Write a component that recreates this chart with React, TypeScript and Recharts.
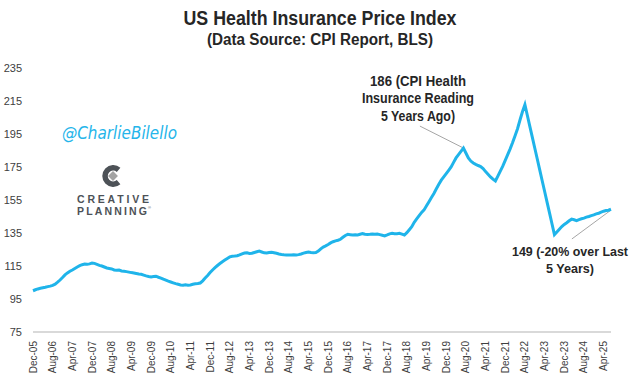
import { LineChart, Line, XAxis, YAxis, ReferenceLine } from "recharts";

// US Health Insurance CPI, monthly, Dec-05 .. Jul-25
const dec2005 = [100.0];
const y2006 = [100.6, 101.1, 101.5, 101.8, 102.1, 102.5, 102.8, 103.3, 104.0, 105.2, 106.5, 108.0];
const y2007 = [109.6, 110.8, 111.8, 112.6, 113.5, 114.4, 115.2, 115.8, 116.2, 116.0, 116.3, 116.8];
const y2008 = [116.6, 116.0, 115.4, 115.0, 114.4, 113.8, 113.5, 113.2, 112.6, 112.4, 112.5, 112.0];
const y2009 = [111.8, 111.6, 111.3, 111.0, 110.8, 110.5, 110.2, 110.0, 109.5, 109.0, 108.6, 108.3];
const y2010 = [108.6, 108.8, 108.2, 107.7, 107.0, 106.4, 105.8, 105.3, 104.8, 104.3, 103.9, 103.5];
const y2011 = [103.3, 103.6, 103.4, 103.5, 103.9, 104.2, 104.4, 104.7, 106.0, 107.7, 109.3, 111.0];
const y2012 = [112.6, 114.0, 115.3, 116.5, 117.6, 118.6, 119.6, 120.5, 120.9, 121.0, 121.2, 121.7];
const y2013 = [122.4, 122.9, 123.0, 122.6, 122.7, 123.2, 123.6, 124.0, 123.5, 123.0, 122.9, 123.2];
const y2014 = [123.3, 123.0, 122.7, 122.3, 122.0, 121.8, 121.7, 121.6, 121.7, 121.8, 121.7, 121.9];
const y2015 = [122.3, 122.8, 123.2, 123.5, 123.2, 123.0, 123.1, 124.0, 125.4, 126.5, 127.2, 128.0];
const y2016 = [129.0, 129.7, 130.2, 130.6, 131.2, 132.4, 133.5, 134.2, 134.0, 133.8, 133.9, 133.8];
const y2017 = [134.2, 134.6, 134.3, 134.1, 134.2, 134.4, 134.2, 134.4, 134.0, 133.6, 133.2, 133.8];
const y2018 = [134.5, 134.8, 134.6, 134.5, 134.8, 134.3, 133.8, 135.2, 137.0, 138.8, 141.5, 143.5];
const y2019 = [145.5, 147.5, 149.0, 151.5, 154.0, 156.5, 159.0, 161.8, 164.5, 167.0, 169.0, 171.0];
const y2020 = [173.0, 175.0, 177.8, 180.5, 182.5, 184.5, 186.5, 183.5, 180.5, 178.6, 177.4, 176.6];
const y2021 = [175.9, 175.3, 174.0, 172.2, 170.6, 169.0, 167.6, 166.5, 169.5, 172.5, 175.5, 179.0];
const y2022 = [182.5, 186.0, 189.8, 194.0, 198.2, 203.5, 208.5, 212.8, 206.2, 199.6, 193.1, 186.5];
const y2023 = [180.0, 173.4, 166.8, 160.3, 153.7, 147.2, 140.6, 134.0, 135.6, 137.3, 138.9, 140.2];
const y2024 = [141.2, 142.4, 143.4, 143.0, 142.5, 143.1, 143.6, 144.0, 144.6, 145.0, 145.5, 146.0];
const y2025 = [146.6, 147.0, 147.6, 148.2, 148.6, 148.8, 149.4];

const tickLabels = [
  "Dec-05", "Aug-06", "Apr-07", "Dec-07", "Aug-08", "Apr-09", "Dec-09", "Aug-10",
  "Apr-11", "Dec-11", "Aug-12", "Apr-13", "Dec-13", "Aug-14", "Apr-15", "Dec-15",
  "Aug-16", "Apr-17", "Dec-17", "Aug-18", "Apr-19", "Dec-19", "Aug-20", "Apr-21",
  "Dec-21", "Aug-22", "Apr-23", "Dec-23", "Aug-24", "Apr-25",
];
const yTicks = [75, 95, 115, 135, 155, 175, 195, 215, 235];

const values = [
  ...dec2005, ...y2006, ...y2007, ...y2008, ...y2009, ...y2010, ...y2011, ...y2012,
  ...y2013, ...y2014, ...y2015, ...y2016, ...y2017, ...y2018, ...y2019, ...y2020,
  ...y2021, ...y2022, ...y2023, ...y2024, ...y2025,
];
const data = values.map((v, i) => ({ m: i, v }));
const xTicks = tickLabels.map((_, i) => i * 8);
const lastIdx = values.length - 1;

const FONT = "'Liberation Sans', Arial, sans-serif";
const TEXT = "#262626";

function XTick({ x, y, payload }: any) {
  const label = tickLabels[Math.round(payload.value / 8)];
  return (
    <text
      x={x}
      y={y}
      transform={`rotate(-90 ${x} ${y})`}
      textAnchor="end"
      dy="0.35em"
      fontSize={10}
      fill="#404040"
      fontFamily={FONT}
    >
      {label}
    </text>
  );
}

export default function App() {
  return (
    <div style={{ position: "absolute", left: 0, top: 0, width: 639, height: 381, background: "#fff" }}>
      <LineChart width={639} height={381} data={data} margin={{ top: 68, right: 28, bottom: 0, left: 0 }}>
        <XAxis
          dataKey="m"
          type="number"
          domain={[0, lastIdx]}
          ticks={xTicks}
          interval={0}
          height={49}
          tickSize={0}
          tickMargin={9}
          tickLine={false}
          axisLine={{ stroke: "#d9d9d9", strokeWidth: 2 }}
          tick={<XTick />}
        />
        <YAxis
          domain={[75, 235]}
          ticks={yTicks}
          width={33}
          tickSize={0}
          tickMargin={11}
          axisLine={false}
          tickLine={false}
          tick={{ fontSize: 11, fill: "#404040", fontFamily: FONT }}
        />
        <ReferenceLine
          segment={[{ x: 157.3, y: 199.8 }, { x: 175, y: 186.5 }]}
          stroke="#a6a6a6"
          strokeWidth={1}
        />
        <ReferenceLine
          segment={[{ x: 219.1, y: 131.4 }, { x: lastIdx, y: 148.9 }]}
          stroke="#a6a6a6"
          strokeWidth={1}
        />
        <Line
          dataKey="v"
          type="linear"
          stroke="#1fb4ea"
          strokeWidth={3}
          dot={false}
          isAnimationActive={false}
        />
      </LineChart>

      <svg
        width={639}
        height={381}
        style={{ position: "absolute", left: 0, top: 0, pointerEvents: "none" }}
        fontFamily={FONT}
      >
        <text x={320} y={25} textAnchor="middle" fontSize={20} fontWeight={700} fill={TEXT} textLength={273} lengthAdjust="spacingAndGlyphs">
          US Health Insurance Price Index
        </text>
        <text x={320} y={45} textAnchor="middle" fontSize={16} fontWeight={700} fill={TEXT} textLength={226} lengthAdjust="spacingAndGlyphs">
          (Data Source: CPI Report, BLS)
        </text>

        {/* annotations */}
        <g fontSize={15} fontWeight={700} fill={TEXT} textAnchor="middle">
          <text x={418} y={86} textLength={96} lengthAdjust="spacingAndGlyphs">186 (CPI Health</text>
          <text x={418} y={103} textLength={112} lengthAdjust="spacingAndGlyphs">Insurance Reading</text>
          <text x={418} y={121} textLength={74} lengthAdjust="spacingAndGlyphs">5 Years Ago)</text>
        </g>
        <g fontSize={13} fontWeight={700} fill={TEXT} textAnchor="middle">
          <text x={570} y={256} textLength={116} lengthAdjust="spacingAndGlyphs">149 (-20% over Last</text>
          <text x={570} y={273} textLength={48} lengthAdjust="spacingAndGlyphs">5 Years)</text>
        </g>

        {/* watermark + logo */}
        <text x={62} y={139} fontSize={17} fontStyle="italic" fill="#25b5ea" fontFamily="'DejaVu Sans', sans-serif" textLength={115} lengthAdjust="spacingAndGlyphs">
          @CharlieBilello
        </text>
        <path d="M 118.6 169.8 A 8.2 8.2 0 1 0 118.6 182.2" fill="none" stroke="#4d5257" strokeWidth={5.5} />
        <rect x={109.5} y={172.5} width={7} height={7} fill="#a3a3a3" transform="rotate(45 113 176)" />
        <text x={77} y={203} fontSize={10.5} fontWeight={700} fill="#4d5257" textLength={72}>CREATIVE</text>
        <text x={77} y={215} fontSize={10.5} fontWeight={700} fill="#4d5257" textLength={70}>PLANNING</text>
        <text x={148} y={209} fontSize={4} fill="#4d5257">®</text>
      </svg>
    </div>
  );
}
